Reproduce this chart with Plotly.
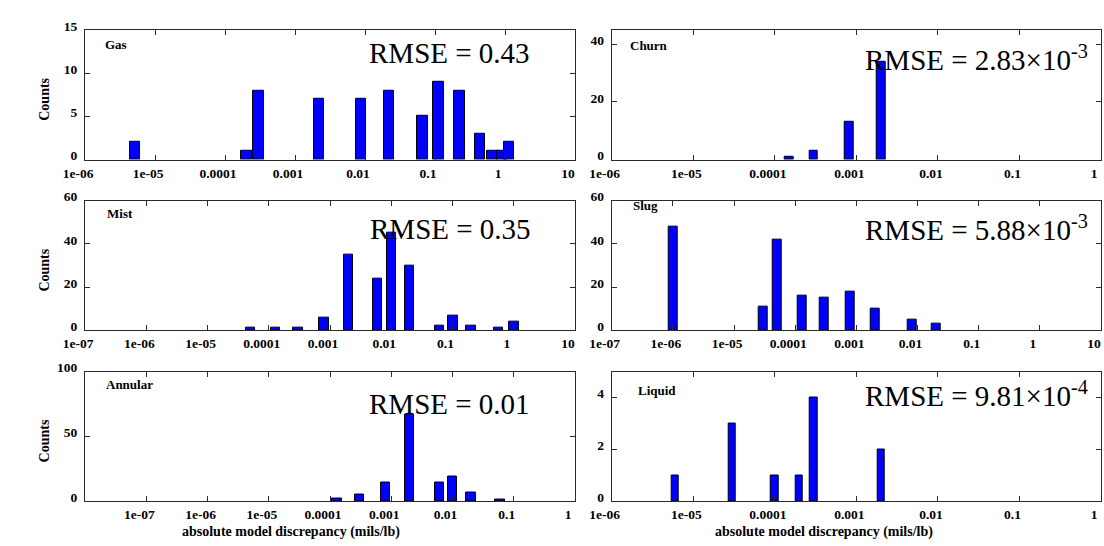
import numpy as np
import plotly.graph_objects as go

# Histogram data: bin centre (mils/lb) and count, one pair of lists per flow regime
gas_x = [5.2e-06, 2.04e-04, 3.03e-04, 2.2e-03, 8.7e-03, 0.022, 0.066, 0.112, 0.224, 0.44, 0.66, 0.90, 1.13]
gas_n = [2, 1, 8, 7, 7, 8, 5, 9, 8, 3, 1, 1, 2]

churn_x = [1.5e-04, 3.0e-04, 8.1e-04, 2.0e-03]
churn_n = [1, 3, 13, 34]

mist_x = [5.0e-05, 1.3e-04, 3.0e-04, 8.0e-04, 2.0e-03, 6.0e-03, 0.010, 0.020, 0.061, 0.101, 0.202, 0.56, 1.01]
mist_n = [1, 1, 1, 6, 35, 24, 45, 30, 2, 7, 2, 1, 4]

slug_x = [1.0e-06, 3.0e-05, 5.0e-05, 1.3e-04, 3.0e-04, 8.0e-04, 2.0e-03, 8.1e-03, 0.020]
slug_n = [48, 11, 42, 16, 15, 18, 10, 5, 3]

annular_x = [1.3e-04, 3.0e-04, 8.0e-04, 2.0e-03, 6.1e-03, 0.010, 0.020, 0.06]
annular_n = [2, 5, 14, 67, 14, 19, 7, 1]

liquid_x = [6.0e-06, 3.0e-05, 1.0e-04, 2.0e-04, 3.0e-04, 2.0e-03]
liquid_n = [1, 3, 1, 1, 4, 2]

regimes = ["Gas", "Churn", "Mist", "Slug", "Annular", "Liquid"]
rmse_text = ["RMSE = 0.43", "RMSE = 2.83×10<sup>-3</sup>", "RMSE = 0.35",
             "RMSE = 5.88×10<sup>-3</sup>", "RMSE = 0.01", "RMSE = 9.81×10<sup>-4</sup>"]
decade_labels = {-8: "1e-08", -7: "1e-07", -6: "1e-06", -5: "1e-05", -4: "0.0001",
                 -3: "0.001", -2: "0.01", -1: "0.1", 0: "1", 1: "10"}

W, H = 1104, 546
SERIF = "Liberation Serif"

# panel frames in pixels: (left, right) per column, (top, bottom) per row
cols = [(64.3, 564.3), (601.7, 1101.0)]
rows = [(19.3, 152.7), (195.0, 328.3), (370.7, 504.0)]

panels = [
    dict(x=gas_x, n=gas_n, xr=(-6, 1), ticks=range(-6, 2), yr=15, yt=[0, 5, 10, 15], bw=0.15,
         lab=(82.7, 34.3), rm=(520, 43)),
    dict(x=churn_x, n=churn_n, xr=(-6, 0), ticks=range(-6, 1), yr=45, yt=[0, 20, 40], bw=0.106,
         lab=(618.5, 35.0), rm=(1090, 48)),
    dict(x=mist_x, n=mist_n, xr=(-7, 1), ticks=range(-7, 2), yr=60, yt=[0, 20, 40, 60], bw=0.155,
         lab=(85, 208.0), rm=(521, 223.7)),
    dict(x=slug_x, n=slug_n, xr=(-7, 1), ticks=range(-7, 2), yr=60, yt=[0, 20, 40, 60], bw=0.15,
         lab=(621, 200.0), rm=(1090, 223.2)),
    dict(x=annular_x, n=annular_n, xr=(-8, 0), ticks=range(-7, 1), yr=100, yt=[0, 50, 100], bw=0.155,
         lab=(83.2, 384.3), rm=(520, 403.7)),
    dict(x=liquid_x, n=liquid_n, xr=(-6, 0), ticks=range(-6, 1), yr=5, yt=[0, 2, 4], bw=0.09,
         lab=(626, 390.0), rm=(1090, 393.5)),
]

fig = go.Figure()
annotations = []
tick_font = dict(family=SERIF, size=13.5, color="#000000", weight="bold")

for i, p in enumerate(panels):
    k = i + 1
    r, c = divmod(i, 2)
    left, right = cols[c]
    top, bottom = rows[r]
    xa = "x" if k == 1 else f"x{k}"
    ya = "y" if k == 1 else f"y{k}"
    suffix = "" if k == 1 else str(k)

    fig.add_trace(go.Bar(
        x=np.log10(p["x"]), y=p["n"], width=p["bw"],
        marker=dict(color="#0000ff", line=dict(color="#000000", width=1)),
        xaxis=xa, yaxis=ya, showlegend=False,
    ))

    axis_common = dict(
        showgrid=False, zeroline=False, showline=True, linecolor="#2a2a2a", linewidth=1,
        mirror="allticks", ticks="inside", ticklen=5, tickcolor="#2a2a2a",
    )
    fig.layout["xaxis" + suffix] = dict(
        axis_common,
        domain=[left / W, right / W], range=list(p["xr"]), anchor=ya,
        tickmode="array", tickvals=list(p["ticks"]),
        ticktext=[decade_labels[t] for t in p["ticks"]],
        ticklabelshift=-7, ticklabelstandoff=1,
    )
    fig.layout["yaxis" + suffix] = dict(
        axis_common,
        domain=[1 - bottom / H, 1 - top / H], range=[0, p["yr"]], anchor=xa,
        tickmode="array", tickvals=p["yt"], ticklabelshift=-4, ticklabelstandoff=4,
    )

    lx, ly = p["lab"]
    annotations.append(dict(
        x=lx / W, y=1 - ly / H, xref="paper", yref="paper", xanchor="left", yanchor="middle",
        text=regimes[i], showarrow=False,
        font=dict(family=SERIF, size=13, color="#000000", weight="bold"),
    ))
    rx, ry = p["rm"]
    annotations.append(dict(
        x=rx / W, y=1 - ry / H, xref="paper", yref="paper", xanchor="right", yanchor="middle",
        text=rmse_text[i], showarrow=False,
        font=dict(family=SERIF, size=29, color="#000000"),
    ))

fig.update_xaxes(tickfont=tick_font)
fig.update_yaxes(tickfont=tick_font)

# "Counts" titles on the left column
for top, bottom in rows:
    annotations.append(dict(
        x=22.7 / W, y=1 - ((top + bottom) / 2 + 5) / H, xref="paper", yref="paper",
        xanchor="center", yanchor="middle", text="Counts", textangle=-90, showarrow=False,
        font=dict(family=SERIF, size=14, color="#000000", weight="bold"),
    ))

# shared x-axis title under each bottom panel
for cx in (274.7, 818.0):
    annotations.append(dict(
        x=cx / W, y=1 - 536 / H, xref="paper", yref="paper",
        xanchor="center", yanchor="middle", text="absolute model discrepancy (mils/lb)",
        showarrow=False, font=dict(family=SERIF, size=14, color="#000000", weight="bold"),
    ))

fig.update_layout(
    width=W, height=H, margin=dict(l=0, r=0, t=0, b=0),
    paper_bgcolor="#ffffff", plot_bgcolor="#ffffff",
    bargap=0, annotations=annotations,
)

# page body without the default margin so the figure fills the window exactly
fig.write_html("out.html", post_script="document.body.style.margin='0';")
